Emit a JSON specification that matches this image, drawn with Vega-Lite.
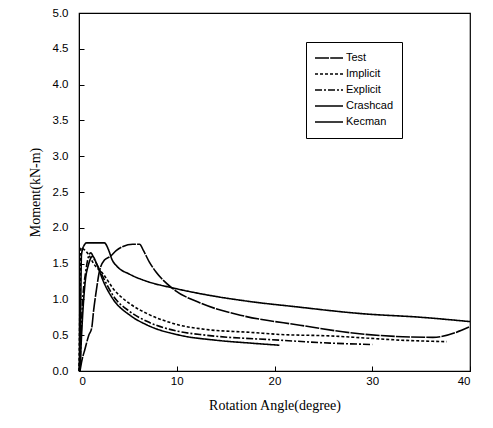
{
  "$schema": "https://vega.github.io/schema/vega-lite/v6.json",
  "width": 391,
  "height": 358,
  "autosize": {"type": "none"},
  "padding": {"left": 79, "top": 13, "right": 23, "bottom": 57},
  "background": "white",
  "config": {
    "view": {"stroke": "black", "strokeWidth": 1.2},
    "axis": {
      "domainColor": "black",
      "tickColor": "black",
      "labelColor": "black",
      "titleColor": "black",
      "grid": false,
      "labelFont": "Liberation Sans",
      "labelFontSize": 11.5,
      "titleFont": "Liberation Serif",
      "titleFontSize": 14,
      "titleFontWeight": "normal"
    }
  },
  "data": {
    "values": [
      {"series": "Kecman", "angle": 0.0, "moment": 0.0},
      {"series": "Kecman", "angle": 0.15, "moment": 0.6},
      {"series": "Kecman", "angle": 0.25, "moment": 1.62},
      {"series": "Kecman", "angle": 0.5, "moment": 1.75},
      {"series": "Kecman", "angle": 0.8, "moment": 1.79},
      {"series": "Kecman", "angle": 2.6, "moment": 1.79},
      {"series": "Kecman", "angle": 3.0, "moment": 1.7},
      {"series": "Kecman", "angle": 3.4, "moment": 1.55},
      {"series": "Kecman", "angle": 3.9, "moment": 1.46},
      {"series": "Kecman", "angle": 5.2, "moment": 1.35},
      {"series": "Kecman", "angle": 7.0, "moment": 1.25},
      {"series": "Kecman", "angle": 9.6, "moment": 1.16},
      {"series": "Kecman", "angle": 12.4, "moment": 1.08},
      {"series": "Kecman", "angle": 17.5, "moment": 0.97},
      {"series": "Kecman", "angle": 22.0, "moment": 0.9},
      {"series": "Kecman", "angle": 29.0, "moment": 0.8},
      {"series": "Kecman", "angle": 35.0, "moment": 0.75},
      {"series": "Kecman", "angle": 40.0, "moment": 0.69},

      {"series": "Test", "angle": 0.1, "moment": 0.0},
      {"series": "Test", "angle": 0.3, "moment": 0.15},
      {"series": "Test", "angle": 0.6, "moment": 0.3},
      {"series": "Test", "angle": 1.0, "moment": 0.5},
      {"series": "Test", "angle": 1.3, "moment": 0.6},
      {"series": "Test", "angle": 1.5, "moment": 0.85},
      {"series": "Test", "angle": 1.8, "moment": 1.15},
      {"series": "Test", "angle": 2.1, "moment": 1.4},
      {"series": "Test", "angle": 2.6, "moment": 1.55},
      {"series": "Test", "angle": 3.2, "moment": 1.6},
      {"series": "Test", "angle": 3.8, "moment": 1.68},
      {"series": "Test", "angle": 4.5, "moment": 1.74},
      {"series": "Test", "angle": 5.5, "moment": 1.77},
      {"series": "Test", "angle": 6.2, "moment": 1.77},
      {"series": "Test", "angle": 6.6, "moment": 1.68},
      {"series": "Test", "angle": 7.2, "moment": 1.52},
      {"series": "Test", "angle": 7.9, "moment": 1.38},
      {"series": "Test", "angle": 9.6, "moment": 1.15},
      {"series": "Test", "angle": 12.4, "moment": 0.95},
      {"series": "Test", "angle": 16.5, "moment": 0.78},
      {"series": "Test", "angle": 22.6, "moment": 0.64},
      {"series": "Test", "angle": 28.7, "moment": 0.52},
      {"series": "Test", "angle": 36.2, "moment": 0.47},
      {"series": "Test", "angle": 40.0, "moment": 0.62},

      {"series": "Crashcad", "angle": 0.1, "moment": 0.0},
      {"series": "Crashcad", "angle": 0.3, "moment": 0.6},
      {"series": "Crashcad", "angle": 0.6, "moment": 1.2},
      {"series": "Crashcad", "angle": 1.0, "moment": 1.5},
      {"series": "Crashcad", "angle": 1.4, "moment": 1.6},
      {"series": "Crashcad", "angle": 1.8, "moment": 1.5},
      {"series": "Crashcad", "angle": 2.5, "moment": 1.25},
      {"series": "Crashcad", "angle": 3.5, "moment": 1.0},
      {"series": "Crashcad", "angle": 5.2, "moment": 0.78},
      {"series": "Crashcad", "angle": 7.0, "moment": 0.64},
      {"series": "Crashcad", "angle": 10.3, "moment": 0.5},
      {"series": "Crashcad", "angle": 14.0, "moment": 0.43},
      {"series": "Crashcad", "angle": 17.5, "moment": 0.39},
      {"series": "Crashcad", "angle": 20.5, "moment": 0.36},

      {"series": "Explicit", "angle": 0.1, "moment": 0.0},
      {"series": "Explicit", "angle": 0.3, "moment": 0.8},
      {"series": "Explicit", "angle": 0.7, "moment": 1.4},
      {"series": "Explicit", "angle": 1.2, "moment": 1.65},
      {"series": "Explicit", "angle": 1.6, "moment": 1.55},
      {"series": "Explicit", "angle": 2.5, "moment": 1.3},
      {"series": "Explicit", "angle": 3.5, "moment": 1.05},
      {"series": "Explicit", "angle": 5.2, "moment": 0.83},
      {"series": "Explicit", "angle": 7.0, "moment": 0.69},
      {"series": "Explicit", "angle": 10.3, "moment": 0.55},
      {"series": "Explicit", "angle": 13.0, "moment": 0.5},
      {"series": "Explicit", "angle": 20.6, "moment": 0.43},
      {"series": "Explicit", "angle": 25.7, "moment": 0.39},
      {"series": "Explicit", "angle": 30.0, "moment": 0.37},

      {"series": "Implicit", "angle": 0.0, "moment": 0.0},
      {"series": "Implicit", "angle": 0.1, "moment": 1.0},
      {"series": "Implicit", "angle": 0.2, "moment": 1.72},
      {"series": "Implicit", "angle": 0.5, "moment": 1.7},
      {"series": "Implicit", "angle": 1.0, "moment": 1.62},
      {"series": "Implicit", "angle": 1.5, "moment": 1.5},
      {"series": "Implicit", "angle": 2.5, "moment": 1.35},
      {"series": "Implicit", "angle": 3.5, "moment": 1.15},
      {"series": "Implicit", "angle": 5.2, "moment": 0.94},
      {"series": "Implicit", "angle": 7.0, "moment": 0.8},
      {"series": "Implicit", "angle": 10.3, "moment": 0.64},
      {"series": "Implicit", "angle": 13.0, "moment": 0.58},
      {"series": "Implicit", "angle": 17.5, "moment": 0.54},
      {"series": "Implicit", "angle": 20.6, "moment": 0.51},
      {"series": "Implicit", "angle": 25.7, "moment": 0.49},
      {"series": "Implicit", "angle": 29.4, "moment": 0.46},
      {"series": "Implicit", "angle": 33.0, "moment": 0.43},
      {"series": "Implicit", "angle": 37.6, "moment": 0.41}
    ]
  },
  "layer": [
    {
      "mark": {"type": "line", "color": "black", "strokeWidth": 1.6, "interpolate": "monotone"},
      "encoding": {
        "x": {
          "field": "angle", "type": "quantitative",
          "scale": {"domain": [0, 40], "nice": false},
          "axis": {
            "title": "Rotation Angle(degree)",
            "values": [0, 10, 20, 30, 40],
            "tickSize": -5,
            "labelPadding": 9,
            "titlePadding": 12
          }
        },
        "y": {
          "field": "moment", "type": "quantitative",
          "scale": {"domain": [0, 5], "nice": false},
          "axis": {
            "title": "Moment(kN-m)",
            "values": [0, 0.5, 1, 1.5, 2, 2.5, 3, 3.5, 4, 4.5, 5],
            "format": ".1f",
            "tickSize": -5,
            "labelPadding": 16,
            "titlePadding": 10
          }
        },
        "strokeDash": {
          "field": "series", "type": "nominal",
          "scale": {
            "domain": ["Test", "Implicit", "Explicit", "Crashcad", "Kecman"],
            "range": [[14, 1.2], [3, 2], [7, 2, 2, 2], [1, 0], [1, 0]]
          },
          "legend": {
            "title": null,
            "orient": "none",
            "legendX": 227,
            "legendY": 29,
            "strokeColor": "black",
            "fillColor": "white",
            "padding": 8,
            "symbolType": "stroke",
            "symbolSize": 784,
            "symbolStrokeWidth": 1.4,
            "symbolStrokeColor": "black",
            "labelFont": "Liberation Sans",
            "labelFontSize": 11,
            "labelColor": "black",
            "labelOffset": 2,
            "clipHeight": 16,
            "rowPadding": 0
          }
        }
      }
    }
  ]
}
